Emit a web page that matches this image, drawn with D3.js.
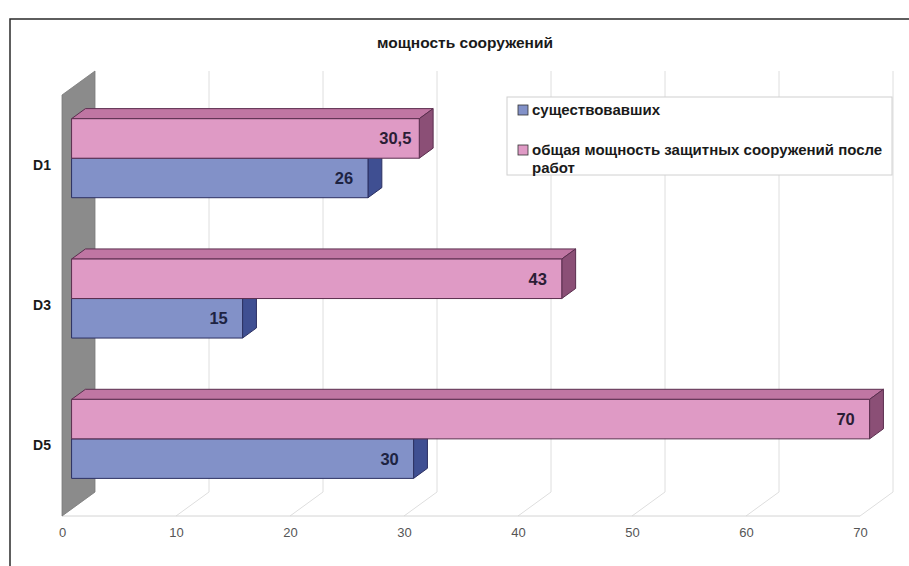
<!DOCTYPE html>
<html>
<head>
<meta charset="utf-8">
<script src="https://cdn.jsdelivr.net/npm/d3@7"></script>
<style>
  html, body { margin: 0; padding: 0; background: #fff; }
  svg { display: block; }
</style>
</head>
<body>
<svg id="chart" width="909" height="566"></svg>
<script>
// Capacity of protective structures by district
const categories = ["D1", "D3", "D5"];
const seriesNames = ["существовавших", "общая мощность защитных сооружений после работ"];
const existing = [26, 15, 30];
const total = [30.5, 43, 70];
const xTicks = [0, 10, 20, 30, 40, 50, 60, 70];
const titleText = "мощность сооружений";

const svg = d3.select("#chart");

// 3D projection: depth z in [0,1] shifts points right and up
const DX = 33, DY = -24;
const proj = (px, py, z) => [px + DX * z, py + DY * z];

const x = d3.scaleLinear().domain([0, 70]).range([62, 860]);
const y0 = d3.scaleBand().domain(categories).range([95, 516]);
const y1 = d3.scaleBand().domain(["total", "existing"])
  .range([0, y0.bandwidth()]).paddingInner(0).paddingOuter(0.776);

// frame
svg.append("rect").attr("x", 10).attr("y", 19).attr("width", 1000).attr("height", 1000)
  .attr("fill", "#fff").attr("stroke", "#2a2a2a").attr("stroke-width", 1.5);

// title
svg.append("text").attr("x", 465).attr("y", 48).attr("text-anchor", "middle")
  .attr("font-family", "Liberation Sans Narrow, Arial Narrow, Liberation Sans, Arial, sans-serif")
  .attr("font-weight", "bold").attr("font-size", 15.5).attr("fill", "#1a1a1a")
  .text(titleText);

const x0 = x(0), xMax = x(70), yTop = 95, yBot = 516;
const grid = svg.append("g").attr("stroke", "#dedede").attr("stroke-width", 1).attr("fill", "none");

// back-wall gridlines and floor diagonals
xTicks.forEach(t => {
  const [bx, by] = proj(x(t), yBot, 1);
  const [tx, ty] = proj(x(t), yTop, 1);
  if (t > 0) grid.append("line").attr("x1", tx).attr("y1", ty).attr("x2", bx).attr("y2", by);
  grid.append("line").attr("x1", x(t)).attr("y1", yBot).attr("x2", bx).attr("y2", by);
});
grid.append("line").attr("x1", x0).attr("y1", yBot).attr("x2", xMax).attr("y2", yBot)
  .attr("stroke", "#d4d4d4");

// side wall
const wallPts = [proj(x0, yTop, 0), proj(x0, yTop, 1), proj(x0, yBot, 1), proj(x0, yBot, 0)];
svg.append("polygon").attr("points", wallPts.map(p => p.join(",")).join(" "))
  .attr("fill", "#8b8b8b").attr("stroke", "#7a7a7a").attr("stroke-width", 0.8);

// axes
const xAxis = svg.append("g").attr("transform", `translate(0,${yBot})`)
  .call(d3.axisBottom(x).tickValues(xTicks).tickSize(0).tickPadding(12));
xAxis.select(".domain").remove();
xAxis.selectAll("text").attr("font-family", "Liberation Sans Narrow, Arial Narrow, Liberation Sans, Arial, sans-serif")
  .attr("font-size", 13).attr("fill", "#555");

const yAxis = svg.append("g").attr("transform", "translate(55,0)")
  .call(d3.axisLeft(y0).tickSize(0).tickPadding(4));
yAxis.select(".domain").remove();
yAxis.selectAll("text").attr("font-family", "Liberation Sans, Arial, sans-serif")
  .attr("font-weight", "bold").attr("font-size", 14).attr("fill", "#1a1a1a");

// bars
const Z0 = 0.29, Z1 = 0.71;
const styles = {
  total:    { front: "#df9ac5", top: "#c076a3", side: "#8b4f76", stroke: "#5a2e4e", label: "#2b1d35" },
  existing: { front: "#8291c8", top: "#5d6cab", side: "#3f4f92", stroke: "#2c3062", label: "#1d2342" }
};
const pts = arr => arr.map(p => p.join(",")).join(" ");

const rows = categories.map((c, i) => ({ c, existing: existing[i], total: total[i] }));
const bars = svg.append("g");
rows.forEach(r => {
  ["existing", "total"].forEach(key => {
    const v = r[key], s = styles[key];
    const ya = y0(r.c) + y1(key), yb = ya + y1.bandwidth();
    const xv = x(v);
    const g = bars.append("g").attr("stroke", s.stroke).attr("stroke-width", 1).attr("stroke-linejoin", "round");
    g.append("polygon").attr("fill", s.top)
      .attr("points", pts([proj(x0, ya, Z0), proj(xv, ya, Z0), proj(xv, ya, Z1), proj(x0, ya, Z1)]));
    g.append("polygon").attr("fill", s.side)
      .attr("points", pts([proj(xv, ya, Z0), proj(xv, ya, Z1), proj(xv, yb, Z1), proj(xv, yb, Z0)]));
    g.append("polygon").attr("fill", s.front)
      .attr("points", pts([proj(x0, ya, Z0), proj(xv, ya, Z0), proj(xv, yb, Z0), proj(x0, yb, Z0)]));
    const [lx, ly] = proj(xv, (ya + yb) / 2, Z0);
    bars.append("text").attr("x", lx - 24).attr("y", ly).attr("dy", "0.36em")
      .attr("text-anchor", "middle")
      .attr("font-family", "Liberation Sans, Arial, sans-serif")
      .attr("font-weight", "bold").attr("font-size", 16.5).attr("fill", s.label)
      .text(String(v).replace(".", ","));
  });
});

// legend
const lg = svg.append("g");
lg.append("rect").attr("x", 507).attr("y", 97).attr("width", 385).attr("height", 78)
  .attr("fill", "#fff").attr("stroke", "#d0d0d0").attr("stroke-width", 1);
const legendItems = [
  { key: "existing", lines: [seriesNames[0]], y: 110 },
  { key: "total", lines: ["общая мощность защитных сооружений после", "работ"], y: 150 }
];
legendItems.forEach(it => {
  lg.append("rect").attr("x", 518).attr("y", it.y - 5).attr("width", 10).attr("height", 10)
    .attr("fill", styles[it.key].front).attr("stroke", "#333").attr("stroke-width", 0.8);
  const t = lg.append("text").attr("x", 532).attr("y", it.y)
    .attr("font-family", "Liberation Sans, Arial, sans-serif")
    .attr("font-weight", "bold").attr("font-size", 15).attr("fill", "#1a1a1a");
  it.lines.forEach((ln, j) => t.append("tspan").attr("x", 532).attr("dy", j === 0 ? "0.35em" : "1.15em").text(ln));
});
</script>
</body>
</html>
